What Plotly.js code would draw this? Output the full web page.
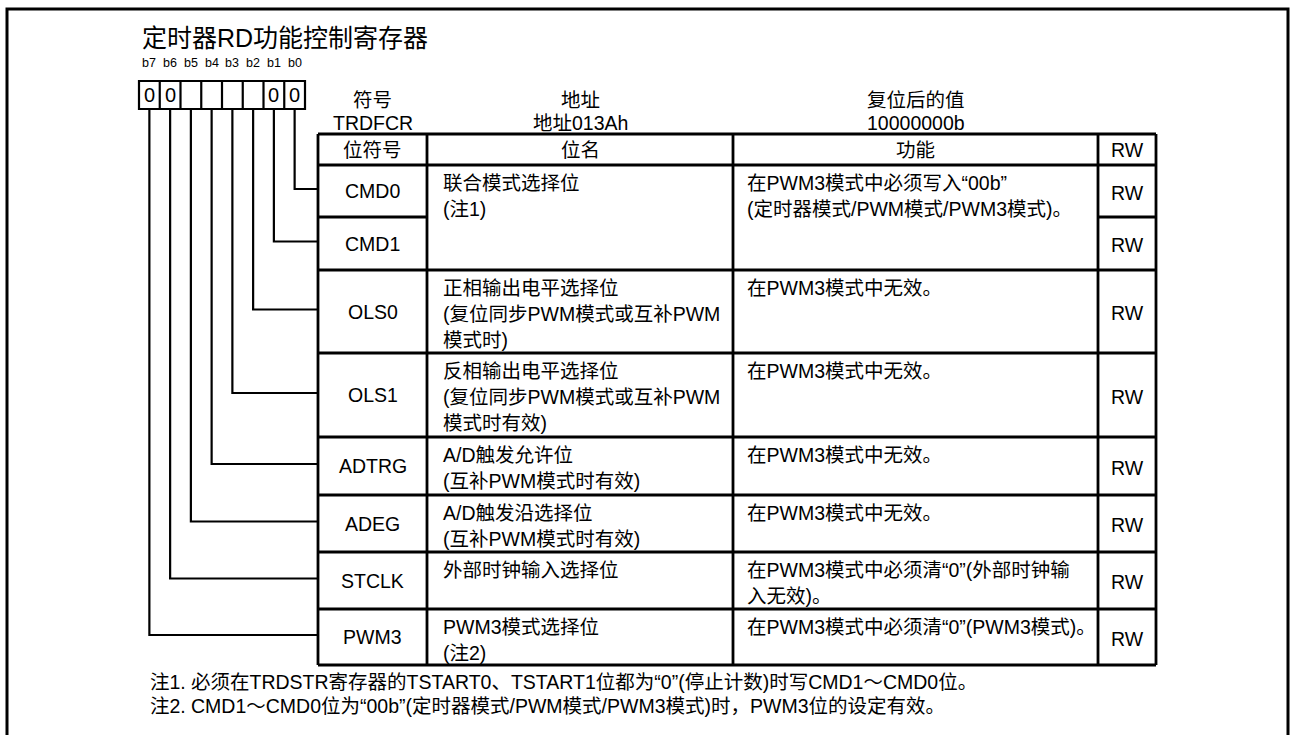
<!DOCTYPE html>
<html><head><meta charset="utf-8">
<script src="https://cdn.plot.ly/plotly-3.0.1.min.js"></script>
<style>html,body{margin:0;padding:0;background:#fff;}#chart{width:1291px;height:735px;}</style>
</head><body><div id="chart"></div>
<script>
// ---------- content ----------
const titleText = '定时器RD功能控制寄存器';
const bitLabels = ['b7','b6','b5','b4','b3','b2','b1','b0'];
const bitValues = ['0','0','','','','','0','0'];
const headerCaptions = ['符号','地址','复位后的值'];
const headerValues = ['TRDFCR','地址013Ah','10000000b'];
const columnHeads = ['位符号','位名','功能','RW'];
const bitSymbols = ['CMD0','CMD1','OLS0','OLS1','ADTRG','ADEG','STCLK','PWM3'];
const nameSpans = [[0,1],[2,2],[3,3],[4,4],[5,5],[6,6],[7,7]];
const bitNames = [
  ['联合模式选择位','(注1)'],
  ['正相输出电平选择位','(复位同步PWM模式或互补PWM','模式时)'],
  ['反相输出电平选择位','(复位同步PWM模式或互补PWM','模式时有效)'],
  ['A/D触发允许位','(互补PWM模式时有效)'],
  ['A/D触发沿选择位','(互补PWM模式时有效)'],
  ['外部时钟输入选择位'],
  ['PWM3模式选择位','(注2)']
];
const functionTexts = [
  ['在PWM3模式中必须写入“00b”','(定时器模式/PWM模式/PWM3模式)。'],
  ['在PWM3模式中无效。'],
  ['在PWM3模式中无效。'],
  ['在PWM3模式中无效。'],
  ['在PWM3模式中无效。'],
  ['在PWM3模式中必须清“0”(外部时钟输','入无效)。'],
  ['在PWM3模式中必须清“0”(PWM3模式)。']
];
const accessModes = ['RW','RW','RW','RW','RW','RW','RW','RW'];
const noteLabels = ['注1.','注2.'];
const noteTexts = [
  '必须在TRDSTR寄存器的TSTART0、TSTART1位都为“0”(停止计数)时写CMD1～CMD0位。',
  'CMD1～CMD0位为“00b”(定时器模式/PWM模式/PWM3模式)时，PWM3位的设定有效。'
];

// ---------- geometry (layout only) ----------
const G = {
  frame: {l:7, t:9, r:1288, b:760},
  titleX:142, titleY:38,
  box: {x0:139, w:20.75, y0:81, y1:109},
  bitLabelY:63,
  cols:[318,427,733,1098,1156],
  headerTop:134, headerBottom:165,
  rowEdges:[165,217,270,353,437,495,552,609,665],
  captionY:100, valueY:122.5, headY:150,
  padX:14, lineOffset:17.5, lineGap:26.3,
  noteX0:148, noteX1:189, noteY:[682,706]
};
const FONT = 'Liberation Sans, Arial, Noto Sans CJK SC, sans-serif';
const FS = 19.5;

const shapes = [];
const ann = [];
function line(x0,y0,x1,y1,w){shapes.push({type:'line',xref:'x',yref:'y',x0,y0,x1,y1,line:{color:'#000',width:w}});}
function path(d,w){shapes.push({type:'path',xref:'x',yref:'y',path:d,line:{color:'#000',width:w}});}
function text(t,x,y,opt){ann.push(Object.assign({text:t,x,y,xref:'x',yref:'y',showarrow:false,xanchor:'center',yanchor:'middle',font:{family:FONT,size:FS,color:'#000'}},opt||{}));}

// outer frame
path(`M ${G.frame.l} ${G.frame.b} L ${G.frame.l} ${G.frame.t} L ${G.frame.r} ${G.frame.t} L ${G.frame.r} ${G.frame.b}`,3);

// bit boxes
const nb = bitLabels.length;
const bx = i => G.box.x0 + i*G.box.w;
shapes.push({type:'rect',xref:'x',yref:'y',x0:bx(0),x1:bx(nb),y0:G.box.y0,y1:G.box.y1,line:{color:'#000',width:2.2}});
for(let i=1;i<nb;i++) line(bx(i),G.box.y0,bx(i),G.box.y1,2.2);
bitLabels.forEach((b,i)=>{
  const cx = bx(i)+G.box.w/2;
  text(b,cx,G.bitLabelY,{font:{family:FONT,size:12.5,color:'#000'}});
  if(bitValues[i]) text(bitValues[i],cx,(G.box.y0+G.box.y1)/2,{font:{family:FONT,size:20,color:'#000'}});
});

// captions above table
const C = G.cols;
headerCaptions.forEach((c,i)=>{
  const cx=(C[i]+C[i+1])/2;
  text(c,cx,G.captionY);
  text(headerValues[i],cx,G.valueY);
});

// table frame
const R = G.rowEdges;
const bottom = R[R.length-1];
const TW = 2.8;
C.forEach(x=>line(x,G.headerTop,x,bottom,TW));
line(C[0],G.headerTop,C[4],G.headerTop,TW);
line(C[0],G.headerBottom,C[4],G.headerBottom,TW);
line(C[0],bottom,C[4],bottom,TW);
columnHeads.forEach((h,i)=>text(h,(C[i]+C[i+1])/2,G.headY));
// interior row lines
for(let r=1;r<R.length-1;r++){
  const y=R[r];
  line(C[0],y,C[1],y,TW);
  line(C[3],y,C[4],y,TW);
  const merged = nameSpans.some(s=>r>s[0] && r<=s[1]);
  if(!merged) line(C[1],y,C[3],y,TW);
}
// symbols, rw, connectors
bitSymbols.forEach((s,r)=>{
  const cy=(R[r]+R[r+1])/2;
  text(s,(C[0]+C[1])/2,cy);
  text(accessModes[r],(C[3]+C[4])/2,cy+1.5);
  const bit = nb-1-r; // b0 -> first row
  const cx = bx(bit)+G.box.w/2;
  path(`M ${cx} ${G.box.y1} L ${cx} ${cy-2} L ${C[0]} ${cy-2}`,2.2);
});
// names and functions
nameSpans.forEach((sp,g)=>{
  const top=R[sp[0]];
  bitNames[g].forEach((t,k)=>text(t,C[1]+G.padX,top+G.lineOffset+k*G.lineGap,{xanchor:'left'}));
  functionTexts[g].forEach((t,k)=>text(t,C[2]+12,top+G.lineOffset+k*G.lineGap,{xanchor:'left'}));
});
// notes
noteLabels.forEach((n,i)=>{
  text(n,G.noteX0,G.noteY[i],{xanchor:'left'});
  text(noteTexts[i],G.noteX1,G.noteY[i],{xanchor:'left'});
});

const layout = {
  width:1291,height:735,
  margin:{l:0,r:0,t:0,b:0},
  paper_bgcolor:'#fff',plot_bgcolor:'#fff',
  showlegend:false,
  title:{text:titleText,x:G.titleX/1291,xref:'paper',xanchor:'left',y:1-G.titleY/735,yref:'paper',yanchor:'middle',font:{family:FONT,size:25,color:'#000'},pad:{t:0,b:0,l:0,r:0}},
  xaxis:{range:[0,1291],visible:false,fixedrange:true},
  yaxis:{range:[735,0],visible:false,fixedrange:true},
  shapes:shapes,
  annotations:ann
};
Plotly.newPlot('chart',[],layout,{displayModeBar:false,staticPlot:true});
</script>
</body></html>
